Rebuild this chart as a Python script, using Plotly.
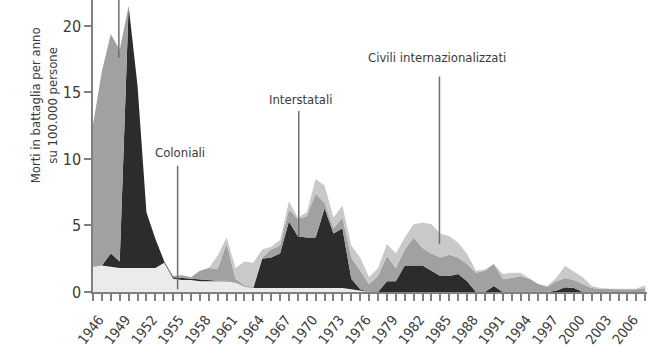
import plotly.graph_objects as go

years = list(range(1946, 2009))

# Morti in battaglia per anno su 100.000 persone (valori per categoria, non cumulati)
coloniali = [1.9, 2.0, 1.9, 1.8, 1.8, 1.8, 1.8, 1.8, 2.2, 1.0,
             0.9, 0.9, 0.8, 0.8, 0.8, 0.8, 0.7, 0.4, 0.3, 0.3,
             0.3, 0.3, 0.3, 0.3, 0.3, 0.3, 0.3, 0.3, 0.3, 0.2,
             0.1, 0.0, 0.0, 0.0, 0.0, 0.0, 0.0, 0.0, 0.0, 0.0,
             0.0, 0.0, 0.0, 0.0, 0.0, 0.0, 0.0, 0.0, 0.0, 0.0,
             0.0, 0.0, 0.0, 0.0, 0.0, 0.0, 0.0, 0.0, 0.0, 0.0,
             0.0, 0.0, 0.0]
interstatali = [0.0, 0.0, 1.0, 0.5, 19.7, 13.7, 4.2, 2.2, 0.1, 0.1,
                0.15, 0.1, 0.1, 0.1, 0.05, 0.05, 0.0, 0.0, 0.0, 2.2,
                2.3, 2.6, 5.0, 3.9, 3.8, 3.8, 6.0, 4.1, 4.5, 0.8,
                0.1, 0.0, 0.0, 0.8, 0.8, 2.0, 2.0, 2.0, 1.6, 1.2,
                1.2, 1.35, 0.8, 0.0, 0.0, 0.45, 0.0, 0.0, 0.0, 0.0,
                0.0, 0.0, 0.1, 0.35, 0.3, 0.0, 0.0, 0.0, 0.0, 0.0,
                0.0, 0.0, 0.0]
civili = [10.7, 14.6, 16.5, 15.9, 0.0, 0.0, 0.0, 0.0, 0.0, 0.1,
          0.2, 0.1, 0.7, 0.9, 0.9, 2.8, 0.3, 0.1, 0.1, 0.1,
          0.6, 0.6, 0.9, 1.3, 1.6, 3.3, 0.4, 0.4, 0.8, 1.6,
          1.4, 0.6, 1.2, 1.9, 1.0, 1.2, 2.1, 1.3, 1.3, 1.4,
          1.6, 1.25, 1.3, 1.45, 1.6, 1.65, 1.0, 1.05, 1.2, 1.0,
          0.6, 0.4, 0.7, 0.7, 0.6, 0.6, 0.3, 0.25, 0.2, 0.2,
          0.2, 0.2, 0.3]
civili_internazionalizzati = [0.0, 0.0, 0.0, 0.0, 0.0, 0.0, 0.0, 0.0, 0.0, 0.0,
                              0.0, 0.0, 0.0, 0.0, 1.0, 0.45, 0.8, 1.8, 1.8, 0.6,
                              0.2, 0.4, 0.6, 0.1, 0.3, 1.1, 1.3, 0.8, 0.9, 0.9,
                              1.0, 0.5, 0.6, 0.9, 1.1, 0.9, 1.0, 1.9, 2.2, 1.8,
                              1.4, 1.1, 0.75, 0.15, 0.1, 0.0, 0.35, 0.4, 0.25, 0.05,
                              0.0, 0.05, 0.25, 0.9, 0.6, 0.5, 0.15, 0.05, 0.05, 0.05,
                              0.05, 0.05, 0.2]

tick_vals = years
tick_text = [str(y) if (y - 1946) % 3 == 0 and y <= 2006 else "" for y in years]

series = [
    ("Coloniali", coloniali, "#ebebeb"),
    ("Interstatali", interstatali, "#2c2c2c"),
    ("Civili", civili, "#a1a1a1"),
    ("Civili internazionalizzati", civili_internazionalizzati, "#c9c9c9"),
]

fig = go.Figure()
for name, vals, col in series:
    fig.add_trace(go.Scatter(
        x=years, y=vals, name=name, mode="lines",
        stackgroup="one", line=dict(width=0, color=col),
        fillcolor=col, hoverinfo="x+y+name",
    ))

narrow = "DejaVu Sans Condensed, Liberation Sans Narrow, Liberation Sans, sans-serif"
text_col = "#3a3a3a"
line_col = "#6e6e6e"

# label leader lines
for x0, y0, y1 in [(1948.9, 17.6, 23), (1955.5, 0.2, 9.5), (1969.1, 4.2, 13.6), (1984.9, 3.6, 16.2)]:
    fig.add_shape(type="line", xref="x", yref="y", x0=x0, x1=x0, y0=y0, y1=y1,
                  line=dict(color=line_col, width=1.5))

for txt, x, y in [("Coloniali", 1955.8, 10.45), ("Interstatali", 1969.3, 14.5),
                  ("Civili internazionalizzati", 1984.65, 17.6)]:
    fig.add_annotation(x=x, y=y, xref="x", yref="y", text=txt, showarrow=False,
                       font=dict(family=narrow, size=13, color=text_col))

fig.add_annotation(xref="paper", yref="paper", x=-0.088, y=0.64,
                   xanchor="center", yanchor="middle",
                   text="Morti in battaglia per anno<br>su 100.000 persone",
                   textangle=-90, showarrow=False,
                   font=dict(family=narrow, size=13, color=text_col))

fig.update_layout(
    width=662, height=360,
    margin=dict(l=93, r=15, t=0, b=68),
    paper_bgcolor="white", plot_bgcolor="white",
    showlegend=False,
    xaxis=dict(range=[1946, 2008.2], tickvals=tick_vals, ticktext=tick_text,
               tickangle=-52, ticks="outside", ticklen=7, tickwidth=1.5,
               tickcolor="#808080", showline=True, linecolor="#808080", linewidth=2,
               showgrid=False, zeroline=False, automargin=False,
               ticklabelstandoff=5, ticklabelshift=6,
               tickfont=dict(family=narrow, size=14, color=text_col)),
    yaxis=dict(range=[0, 21.95], tickvals=[0, 5, 10, 15, 20],
               ticks="outside", ticklen=7, tickwidth=1.5, tickcolor="#808080",
               showline=True, linecolor="#808080", linewidth=1.5,
               showgrid=False, zeroline=False, automargin=False,
               tickfont=dict(family=narrow, size=16, color=text_col)),
)

fig.write_html("out.html", config={"displayModeBar": False},
               post_script="document.body.style.margin='0';document.body.style.padding='0';")
